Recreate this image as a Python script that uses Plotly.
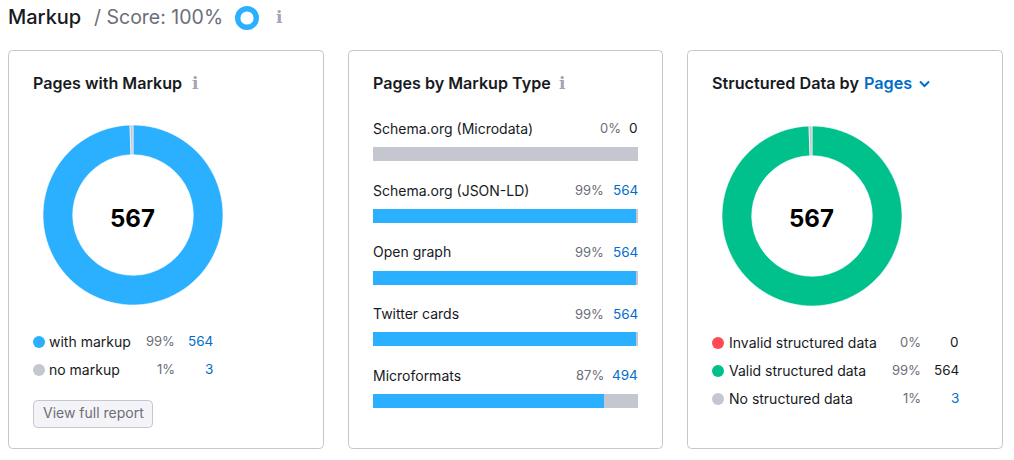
import plotly.graph_objects as go

W = 1014
H = 460

# data
score = [100]
markup_labels = ["with markup", "no markup"]
markup_pages = [564, 3]
markup_pct = ["99%", "1%"]
markup_colors = ["#2bafff", "#c4c7cf"]

type_labels = ["Schema.org (Microdata)", "Schema.org (JSON-LD)", "Open graph", "Twitter cards", "Microformats"]
type_pages = [0, 564, 564, 564, 494]
type_pct = ["0%", "99%", "99%", "99%", "87%"]
total_pages = 567
type_rest = [567, 3, 3, 3, 73]

struct_labels = ["Invalid structured data", "Valid structured data", "No structured data"]
struct_pages = [0, 564, 3]
struct_pct = ["0%", "99%", "1%"]
struct_colors = ["#ff4953", "#00c08b", "#c4c7cf"]

DARK = "#171a22"
GRAY = "#6c6e79"
BLUE = "#006dca"
EDGE = "#c4c7cf"
FONT = "Inter"


def px(x):
    return x / W


def py(y):
    return 1 - y / H


def rrect(x0, y0, x1, y1, r=4):
    return (f"M{px(x0 + r)},{py(y0)} L{px(x1 - r)},{py(y0)} Q{px(x1)},{py(y0)} {px(x1)},{py(y0 + r)} "
            f"L{px(x1)},{py(y1 - r)} Q{px(x1)},{py(y1)} {px(x1 - r)},{py(y1)} "
            f"L{px(x0 + r)},{py(y1)} Q{px(x0)},{py(y1)} {px(x0)},{py(y1 - r)} "
            f"L{px(x0)},{py(y0 + r)} Q{px(x0)},{py(y0)} {px(x0 + r)},{py(y0)} Z")


def donut(values, colors, x0, y0, size, hole, line=0.6):
    return go.Pie(values=values, marker=dict(colors=colors, line=dict(color="white", width=line)),
                  hole=hole, sort=False, direction="clockwise", rotation=0, textinfo="none",
                  hoverinfo="skip", showlegend=False,
                  domain=dict(x=[px(x0), px(x0 + size)], y=[py(y0 + size), py(y0)]))


fig = go.Figure()
fig.add_trace(donut(markup_pages, markup_colors, 43, 125, 180, 0.67))
fig.add_trace(donut(struct_pages, struct_colors, 722, 126, 180, 0.67))
fig.add_trace(donut(score, ["#2bafff"], 235, 6, 24, 0.55, line=0))

# bars
fig.add_trace(go.Bar(y=type_labels, x=type_pages, orientation="h", marker=dict(color="#2bafff", line_width=0),
                     hoverinfo="skip", showlegend=False))
fig.add_trace(go.Bar(y=type_labels, x=type_rest, orientation="h", marker=dict(color=EDGE, line_width=0),
                     hoverinfo="skip", showlegend=False))

shapes = []
for c in [(8.5, 50.5, 323.5, 448.5), (348.5, 50.5, 662.5, 448.5), (687.5, 50.5, 1002.5, 448.5)]:
    shapes.append(dict(type="path", xref="paper", yref="paper", path=rrect(*c),
                       line=dict(color=EDGE, width=1), layer="below"))
shapes.append(dict(type="path", xref="paper", yref="paper", path=rrect(33.5, 400.5, 152.5, 427.5),
                   fillcolor="#f4f4f8", line=dict(color=EDGE, width=1), layer="below"))
# chevron next to Pages
shapes.append(dict(type="path", xref="paper", yref="paper",
                   path=f"M{px(920)},{py(81.5)} L{px(924.5)},{py(86)} L{px(929)},{py(81.5)}",
                   line=dict(color=BLUE, width=2)))


def dot(cx, cy, color):
    shapes.append(dict(type="circle", xref="paper", yref="paper", fillcolor=color, line_width=0,
                       x0=px(cx - 6), x1=px(cx + 6), y0=py(cy + 6), y1=py(cy - 6)))


notes = []


def text(x, y, s, size=14, color=DARK, anchor="left", weight=400, family=FONT):
    notes.append(dict(xref="paper", yref="paper", x=px(x), y=py(y - 0.7), text=s, showarrow=False,
                      xanchor=anchor, yanchor="middle", borderpad=0, borderwidth=0,
                      font=dict(family=family, size=size, color=color, weight=weight)))


def info(x, y):
    text(x, y, "i", size=17, color="#a4a4b2", anchor="center", family="DejaVu Serif", weight=700)


text(8, 18, "Markup", size=20, weight=500)
text(94, 18, "/ Score: 100%", size=19.5, color=GRAY)
info(279, 18)

text(33, 83.5, "Pages with Markup", size=16.1, weight=600)
info(195, 83.5)
text(373, 83.5, "Pages by Markup Type", size=16.1, weight=600)
info(562, 83.5)
text(712, 83.5, "Structured Data by", size=16.2, weight=600)
text(864, 83.5, "Pages", size=16.2, weight=600, color=BLUE)

text(132.5, 219, str(sum(markup_pages)), size=24, weight=700, color="#000000", anchor="center")
text(811.5, 219.5, str(sum(struct_pages)), size=24, weight=700, color="#000000", anchor="center")

for i, lab in enumerate(markup_labels):
    y = 342 + i * 28
    dot(39, y, markup_colors[i])
    text(49, y, lab, size=14)
    text(175, y, markup_pct[i], size=13, color=GRAY, anchor="right")
    text(213, y, str(markup_pages[i]), size=13.5, color=BLUE, anchor="right")

text(93, 413.5, "View full report", size=14, color=GRAY, anchor="center")

for i, lab in enumerate(type_labels):
    y = 129 + i * 61.75
    text(373, y, lab, size=14)
    # percent sits just left of the count, so it moves with the count's width
    text(621 if type_pages[i] == 0 else 603.5, y, type_pct[i], size=13, color=GRAY, anchor="right")
    text(638, y, str(type_pages[i]), size=13.5, color=BLUE if type_pages[i] else DARK, anchor="right")

for i, lab in enumerate(struct_labels):
    y = 343 + i * 28
    dot(718, y, struct_colors[i])
    text(729, y, lab, size=14)
    text(921, y, struct_pct[i], size=13, color=GRAY, anchor="right")
    text(959, y, str(struct_pages[i]), size=13.5, color=BLUE if i == 2 else DARK, anchor="right")

fig.update_layout(
    width=W, height=H, margin=dict(l=0, r=0, t=0, b=0), paper_bgcolor="white", plot_bgcolor="white",
    barmode="stack", bargap=1 - 14 / 61.75, shapes=shapes, annotations=notes,
    font=dict(family=FONT),
)
# five rows of 61.75px, first bar centred on y=154
fig.update_xaxes(domain=[px(373), px(638)], range=[0, total_pages], visible=False)
fig.update_yaxes(domain=[py(154 + 4.5 * 61.75), py(154 - 0.5 * 61.75)], autorange="reversed", visible=False)

fig.write_html("out.html", config=dict(displayModeBar=False),
               post_script="document.body.style.margin='0';")
